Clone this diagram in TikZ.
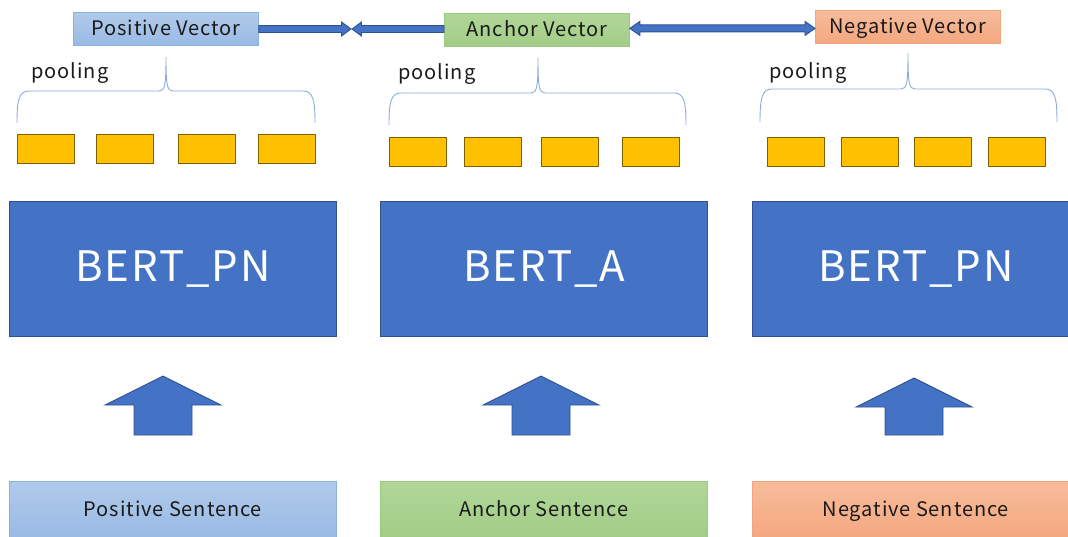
\documentclass[tikz,border=0pt]{standalone}
\usepackage{fontspec}
\setmainfont{Noto Sans CJK JP}[LetterSpace=4.5]
\usetikzlibrary{calc}

\definecolor{bertblue}{HTML}{4472C4}
\definecolor{bertedge}{HTML}{2F528F}
\definecolor{tokfill}{HTML}{FFC000}
\definecolor{tokedge}{HTML}{7F6000}
\definecolor{bracecol}{HTML}{8FAADC}
\definecolor{posTop}{HTML}{B0CAEA}
\definecolor{posBot}{HTML}{9ABAE4}
\definecolor{posEdge}{HTML}{8EB0DF}
\definecolor{ancTop}{HTML}{B0D698}
\definecolor{ancBot}{HTML}{A2CD86}
\definecolor{ancEdge}{HTML}{9CC97F}
\definecolor{negTop}{HTML}{F7BC9B}
\definecolor{negBot}{HTML}{F4A77F}
\definecolor{negEdge}{HTML}{F2A47C}
\definecolor{ink}{HTML}{1A1A1A}

% curly pooling brace: x-left, x-right, x-tip, y-tip, y-bar, y-ends
\newcommand{\poolbrace}[6]{%
  \draw[brace] (#1,#6) .. controls (#1,#5+9) and (#1+2,#5) .. (#1+12,#5)
    -- (#3-7,#5) .. controls (#3-1,#5) and (#3,#5-6) .. (#3,#4)
    .. controls (#3,#5-6) and (#3+1,#5) .. (#3+7,#5)
    -- (#2-12,#5) .. controls (#2-2,#5) and (#2,#5+9) .. (#2,#6);}

\tikzset{
  box/.style={rectangle, inner sep=0pt, anchor=north west, line width=0.8pt,
    text=ink, font=\fontsize{20}{24}\selectfont, text height=16.5pt, text depth=2.5pt},
  vecbox/.style={box, minimum width=185pt, minimum height=33pt},
  sentbox/.style={box, minimum width=327pt, minimum height=57pt},
  bert/.style={rectangle, inner sep=0pt, anchor=north west, fill=bertblue,
    draw=bertedge, line width=1pt, minimum width=327pt, minimum height=135pt,
    text=white, font=\fontsize{42}{48}\selectfont},
  token/.style={rectangle, inner sep=0pt, anchor=north west, fill=tokfill,
    draw=tokedge, line width=0.8pt, minimum width=57pt, minimum height=29pt},
  brace/.style={draw=bracecol, line width=0.9pt},
  blockarrow/.style={fill=bertblue, draw=bertedge, line width=0.9pt, line join=miter},
  pool/.style={text=ink, font=\fontsize{20}{24}\selectfont, inner sep=0pt},
}

\begin{document}
\begin{tikzpicture}[x=1pt, y=-1pt]
\useasboundingbox (0,0) rectangle (1068,536);

% pooled sentence vectors
\node[vecbox, top color=posTop, bottom color=posBot, draw=posEdge] (pv) at (73,12) {Positive Vector};
\node[vecbox, top color=ancTop, bottom color=ancBot, draw=ancEdge] (av) at (444,13) {Anchor Vector};
\node[vecbox, top color=negTop, bottom color=negBot, draw=negEdge] (nv) at (815,10) {Negative Vector};

% positive <-> anchor: two arrows meeting in the middle
\coordinate (meet) at (351.5,29);
\draw[blockarrow] ($(pv.east|-meet)+(0,-3.5)$) -- ($(meet)+(-10,-3.5)$) -- ($(meet)+(-10,-7)$)
  -- ($(meet)+(-0.5,0)$) -- ($(meet)+(-10,7)$) -- ($(meet)+(-10,3.5)$)
  -- ($(pv.east|-meet)+(0,3.5)$) -- cycle;
\draw[blockarrow] ($(av.west|-meet)+(0,-3.5)$) -- ($(meet)+(10,-3.5)$) -- ($(meet)+(10,-7)$)
  -- ($(meet)+(0.5,0)$) -- ($(meet)+(10,7)$) -- ($(meet)+(10,3.5)$)
  -- ($(av.west|-meet)+(0,3.5)$) -- cycle;

% anchor <-> negative: double-headed arrow
\coordinate (dl) at ($(av.east)+(0,-1.5)$);
\coordinate (dr) at (nv.west|-dl);
\draw[blockarrow] (dl) -- ($(dl)+(10,-7)$) -- ($(dl)+(10,-3.5)$) -- ($(dr)+(-10,-3.5)$)
  -- ($(dr)+(-10,-7)$) -- (dr) -- ($(dr)+(-10,7)$) -- ($(dr)+(-10,3.5)$)
  -- ($(dl)+(10,3.5)$) -- ($(dl)+(10,7)$) -- cycle;

% pooling braces and labels
\poolbrace{17}{315}{166}{57}{91}{123}
\poolbrace{389}{686}{538}{58}{93}{125}
\poolbrace{760}{1057}{908}{53}{89}{122}
\node[pool] (pl1) at (70,73) {pooling};
\node[pool] (pl2) at (437,74) {pooling};
\node[pool] (pl3) at (808,73) {pooling};

% token outputs
\node[token] (t11) at (17,134) {};
\node[token] (t12) at (96,134) {};
\node[token] (t13) at (178,134) {};
\node[token] (t14) at (258,134) {};
\node[token] (t21) at (389,137) {};
\node[token] (t22) at (464,137) {};
\node[token] (t23) at (541,137) {};
\node[token] (t24) at (622,137) {};
\node[token] (t31) at (767,137) {};
\node[token] (t32) at (841,137) {};
\node[token] (t33) at (914,137) {};
\node[token] (t34) at (988,137) {};

% encoders
\node[bert] (b1) at (9,201) {BERT\_PN};
\node[bert] (b2) at (380,201) {BERT\_A};
\node[bert] (b3) at (752,201) {BERT\_PN};

% input block arrows
\foreach \cx/\ty in {163/376, 541/376, 914/378}{
  \draw[blockarrow] (\cx,\ty) -- ++(58,29) -- ++(-29,0) -- (\cx+29,435)
    -- (\cx-29,435) -- (\cx-29,\ty+29) -- ++(-29,0) -- cycle;
}

% input sentences
\node[sentbox, top color=posTop, bottom color=posBot, draw=posEdge] (ps) at (9,481) {Positive Sentence};
\node[sentbox, top color=ancTop, bottom color=ancBot, draw=ancEdge] (as) at (380,481) {Anchor Sentence};
\node[sentbox, top color=negTop, bottom color=negBot, draw=negEdge] (ns) at (752,481) {Negative Sentence};
\end{tikzpicture}
\end{document}
